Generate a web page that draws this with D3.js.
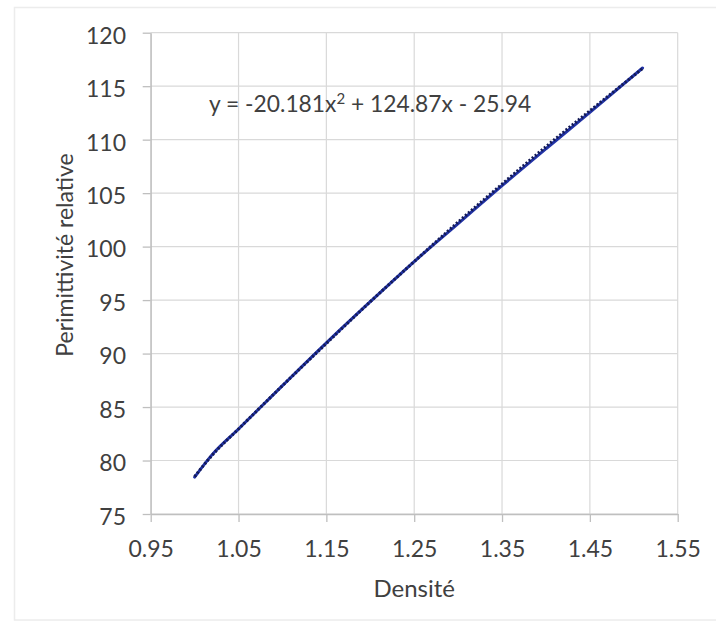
<!DOCTYPE html>
<html>
<head>
<meta charset="utf-8">
<script src="https://cdn.jsdelivr.net/npm/d3@7"></script>
<style>
  html, body { margin: 0; padding: 0; background: #ffffff; }
  svg { display: block; }
  text { font-family: Lato, "Noto Sans", sans-serif; fill: #404040; }
</style>
</head>
<body>
<svg id="chart" width="716" height="622"></svg>
<script>
// ---- data ----
const densite = [1.00, 1.02, 1.05, 1.10, 1.15, 1.20, 1.25, 1.30, 1.35, 1.40, 1.45, 1.51];
const permittivite = [78.45, 80.55, 82.95, 87.0, 91.0, 94.85, 98.6, 102.15, 105.7, 109.15, 112.55, 116.7];
const trendX = [1.00, 1.02, 1.05, 1.10, 1.15, 1.20, 1.25, 1.30, 1.35, 1.40, 1.45, 1.51];
const trendY = [78.5, 80.5, 82.95, 87.0, 90.95, 94.85, 98.6, 102.3, 105.85, 109.35, 112.7, 116.65];
const xTicks = [0.95, 1.05, 1.15, 1.25, 1.35, 1.45, 1.55];
const yTicks = [75, 80, 85, 90, 95, 100, 105, 110, 115, 120];
const equationText = ["y = -20.181x", "2", " + 124.87x - 25.94"];
const xTitle = "Densité";
const yTitle = "Perimittivité relative";

const svg = d3.select("#chart");
const plot = { left: 150.7, right: 677.7, top: 32.7, bottom: 514 };

// faint outer frame
svg.append("rect")
  .attr("x", 14.5).attr("y", 7.5).attr("width", 720).attr("height", 612.5)
  .attr("fill", "none").attr("stroke", "#ececec").attr("stroke-width", 1.5);

const x = d3.scaleLinear().domain([0.95, 1.55]).range([plot.left, plot.right]);
const y = d3.scaleLinear().domain([75, 120]).range([plot.bottom, plot.top]);

// gridlines
const grid = svg.append("g").attr("stroke", "#d9d9d9").attr("stroke-width", 1.2);
grid.selectAll("line.v").data(xTicks).join("line").attr("class", "v")
  .attr("x1", d => x(d)).attr("x2", d => x(d))
  .attr("y1", plot.top).attr("y2", plot.bottom);
grid.selectAll("line.h").data(yTicks).join("line").attr("class", "h")
  .attr("x1", plot.left).attr("x2", plot.right)
  .attr("y1", d => y(d)).attr("y2", d => y(d));

// axes
const xAxis = d3.axisBottom(x).tickValues(xTicks).tickFormat(d3.format(".2f"))
  .tickSizeInner(8).tickSizeOuter(0).tickPadding(19);
const yAxis = d3.axisLeft(y).tickValues(yTicks).tickFormat(d3.format("d"))
  .tickSizeInner(8).tickSizeOuter(0).tickPadding(16.7);

const gx = svg.append("g").attr("transform", `translate(0,${plot.bottom})`).call(xAxis);
const gy = svg.append("g").attr("transform", `translate(${plot.left},0)`).call(yAxis);
[gx, gy].forEach(g => {
  g.select(".domain").attr("stroke", "#bfbfbf").attr("stroke-width", 1.3);
  g.selectAll(".tick line").attr("stroke", "#bfbfbf").attr("stroke-width", 1.3);
  g.selectAll(".tick text").attr("font-size", 23).attr("font-family", "Lato, 'Noto Sans', sans-serif").attr("fill", "#404040");
});
gy.selectAll(".tick text").attr("dy", "0.45em");

// series lines
const line = d3.line().x(d => x(d[0])).y(d => y(d[1])).curve(d3.curveMonotoneX);
svg.append("path")
  .datum(d3.zip(densite, permittivite))
  .attr("fill", "none").attr("stroke", "#2233a6").attr("stroke-width", 3)
  .attr("stroke-linecap", "round").attr("stroke-linejoin", "round")
  .attr("d", line);
svg.append("path")
  .datum(d3.zip(trendX, trendY))
  .attr("fill", "none").attr("stroke", "#131a55").attr("stroke-width", 3)
  .attr("stroke-dasharray", "2 2")
  .attr("d", line);

// equation label
const eq = svg.append("text").attr("x", 209).attr("y", 112).attr("font-size", 22.8);
eq.append("tspan").text(equationText[0]);
eq.append("tspan").attr("dy", -8).attr("font-size", 15).text(equationText[1]);
eq.append("tspan").attr("dy", 8).text(equationText[2]);

// axis titles
svg.append("text")
  .attr("x", (plot.left + plot.right) / 2).attr("y", 597)
  .attr("text-anchor", "middle").attr("font-size", 24).text(xTitle);
svg.append("text")
  .attr("transform", `translate(73,255) rotate(-90)`)
  .attr("text-anchor", "middle").attr("font-size", 23).text(yTitle);
</script>
</body>
</html>
